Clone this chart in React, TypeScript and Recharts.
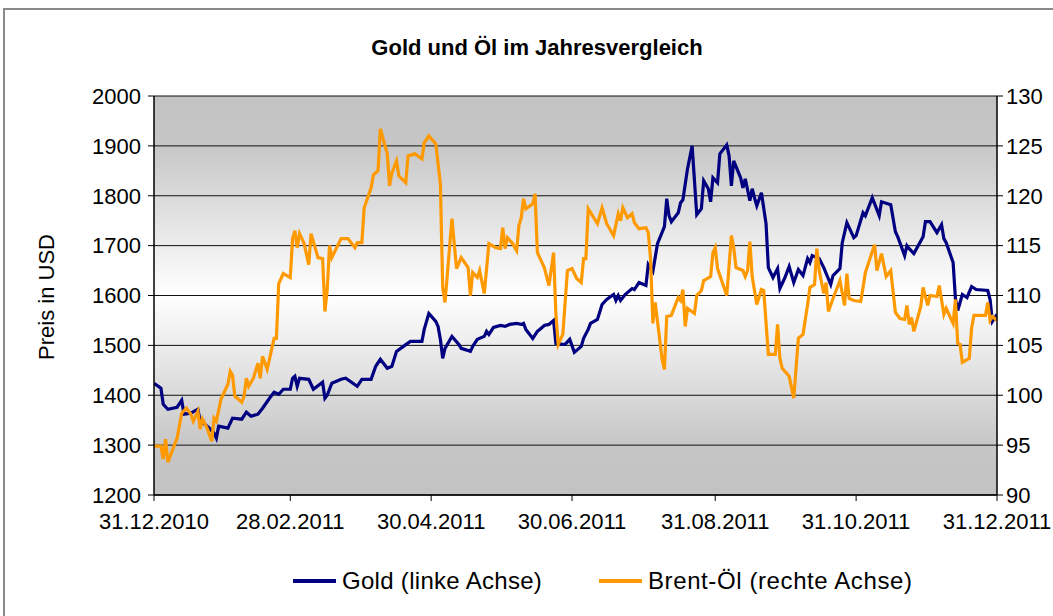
import { CartesianGrid, Line, LineChart, XAxis, YAxis } from "recharts";

const NAVY = "#000080";
const ORANGE = "#FF9900";
const AXIS = "#000000";
const FONT = "'Liberation Sans', Arial, sans-serif";

// x = days since 31.12.2010
const X_TICKS = [0, 59, 120, 181, 243, 304, 365];
const X_LABELS = ["31.12.2010", "28.02.2011", "30.04.2011", "30.06.2011", "31.08.2011", "31.10.2011", "31.12.2011"];
const GOLD_TICKS = [1200, 1300, 1400, 1500, 1600, 1700, 1800, 1900, 2000];
const OIL_TICKS = [90, 95, 100, 105, 110, 115, 120, 125, 130];

// [day, USD per ounce]
const GOLD: [number, number][] = [
  [0, 1424], [3, 1414], [4, 1382], [6, 1372], [10, 1376], [12, 1390], [13, 1362], [16, 1364], [19, 1372],
  [20, 1348], [22, 1342], [24, 1334], [26, 1324], [27, 1314], [28, 1338], [32, 1334], [34, 1354], [38, 1352],
  [40, 1366], [42, 1358], [45, 1362], [47, 1374], [50, 1394], [52, 1406], [54, 1402], [56, 1412], [59, 1412],
  [60, 1434], [61, 1438], [62, 1418], [63, 1434], [67, 1432], [69, 1412], [73, 1426], [74, 1394], [75, 1400],
  [77, 1424], [81, 1432], [83, 1434], [88, 1418], [90, 1432], [94, 1432], [96, 1458], [98, 1472], [101, 1454],
  [103, 1458], [105, 1488], [108, 1498], [111, 1508], [116, 1508], [117, 1532], [119, 1564], [122, 1548],
  [123, 1538], [124, 1512], [125, 1474], [126, 1494], [129, 1518], [132, 1502], [133, 1494], [137, 1488],
  [138, 1498], [140, 1512], [143, 1518], [144, 1528], [145, 1522], [147, 1536], [150, 1540], [152, 1538],
  [154, 1542], [157, 1544], [159, 1542], [160, 1544], [161, 1532], [164, 1514], [166, 1528], [167, 1532],
  [169, 1540], [171, 1542], [173, 1550], [174, 1504], [177, 1502], [178, 1502], [180, 1512], [182, 1486],
  [185, 1498], [186, 1514], [188, 1532], [189, 1544], [192, 1552], [194, 1582], [196, 1592], [199, 1602],
  [200, 1590], [201, 1600], [202, 1590], [204, 1602], [207, 1614], [208, 1612], [210, 1626], [213, 1620],
  [214, 1662], [216, 1648], [218, 1704], [221, 1738], [222, 1794], [223, 1760], [224, 1748], [227, 1766],
  [228, 1786], [229, 1792], [231, 1854], [233, 1900], [235, 1762], [237, 1774], [238, 1830], [240, 1814],
  [241, 1788], [242, 1836], [244, 1826], [245, 1884], [248, 1902], [249, 1880], [250, 1820], [251, 1870],
  [254, 1836], [255, 1816], [256, 1834], [258, 1790], [259, 1814], [260, 1796], [261, 1780], [263, 1806],
  [265, 1744], [266, 1656], [268, 1636], [270, 1654], [271, 1614], [273, 1634], [275, 1658], [277, 1626],
  [279, 1652], [281, 1640], [283, 1674], [284, 1666], [285, 1680], [288, 1674], [290, 1656], [293, 1622],
  [294, 1640], [297, 1654], [298, 1706], [300, 1746], [303, 1716], [304, 1720], [307, 1766], [308, 1760],
  [311, 1796], [314, 1760], [315, 1788], [319, 1782], [321, 1728], [322, 1718], [325, 1680], [326, 1700],
  [327, 1694], [329, 1684], [333, 1718], [334, 1748], [336, 1748], [339, 1726], [341, 1742], [342, 1714],
  [343, 1706], [346, 1666], [347, 1594], [348, 1570], [350, 1602], [352, 1596], [354, 1618], [356, 1612],
  [361, 1610], [362, 1592], [363, 1548], [365, 1562],
];

// [day, USD per barrel]
const BRENT: [number, number][] = [
  [0, 94.9], [3, 94.9], [4, 93.6], [5, 95.6], [6, 93.3], [10, 95.7], [12, 98.2], [14, 98.7], [16, 98.1],
  [17, 97.4], [19, 98.4], [20, 96.6], [21, 97.6], [23, 96.7], [25, 95.4], [26, 97.7], [27, 97.4], [29, 99.6],
  [32, 101.1], [33, 102.4], [34, 102.0], [35, 99.9], [38, 99.3], [39, 99.9], [40, 101.7], [41, 100.9],
  [43, 101.7], [45, 103.2], [46, 101.7], [47, 103.9], [49, 102.6], [52, 105.7], [53, 105.7], [54, 111.2],
  [56, 112.2], [59, 111.8], [60, 115.7], [61, 116.5], [62, 114.8], [63, 116.2], [65, 115.2], [67, 113.1],
  [68, 116.2], [71, 113.8], [73, 113.7], [74, 108.4], [75, 110.6], [76, 115.0], [77, 113.8], [81, 115.7],
  [84, 115.7], [87, 114.8], [88, 115.3], [90, 115.3], [91, 118.8], [94, 120.8], [95, 122.1], [97, 122.5],
  [98, 126.7], [101, 124.2], [102, 121.0], [103, 122.3], [105, 123.5], [106, 122.0], [109, 121.3],
  [110, 124.0], [113, 124.2], [116, 123.7], [117, 125.3], [119, 126.0], [122, 125.2], [124, 121.2],
  [125, 110.8], [126, 109.3], [129, 117.7], [131, 112.7], [133, 113.8], [136, 112.8], [137, 110.0],
  [138, 112.3], [140, 111.8], [141, 112.5], [143, 110.2], [145, 115.2], [148, 114.8], [150, 114.7],
  [151, 116.8], [152, 114.7], [153, 115.8], [155, 115.3], [157, 114.5], [158, 117.0], [159, 117.8],
  [160, 119.7], [161, 118.7], [164, 119.2], [165, 120.2], [166, 114.3], [169, 112.8], [171, 111.0],
  [173, 114.3], [174, 108.2], [175, 105.1], [177, 106.1], [179, 112.5], [181, 112.7], [183, 111.7],
  [185, 111.3], [186, 113.7], [187, 113.7], [188, 118.7], [192, 117.2], [194, 118.8], [196, 117.2],
  [199, 116.0], [201, 118.2], [202, 117.5], [203, 118.8], [205, 117.8], [207, 118.2], [208, 117.3],
  [210, 116.7], [213, 116.8], [214, 116.3], [215, 113.7], [216, 107.2], [217, 109.3], [220, 103.6],
  [221, 102.6], [222, 107.9], [224, 108.0], [227, 109.8], [228, 109.5], [229, 110.6], [230, 106.9],
  [231, 108.7], [234, 108.2], [235, 110.0], [237, 110.5], [238, 111.5], [241, 111.9], [242, 114.3],
  [243, 114.8], [244, 112.7], [248, 110.0], [250, 116.0], [251, 114.8], [252, 112.8], [255, 112.5],
  [256, 111.9], [257, 112.5], [258, 115.4], [259, 111.9], [261, 109.1], [263, 110.6], [264, 110.5],
  [266, 104.1], [269, 104.1], [270, 107.1], [271, 103.7], [272, 102.7], [275, 101.9], [277, 99.7],
  [279, 105.7], [281, 106.1], [283, 109.1], [284, 110.8], [286, 111.1], [287, 114.7], [288, 112.5],
  [290, 110.2], [291, 111.3], [292, 108.4], [294, 109.7], [297, 111.5], [299, 109.0], [300, 112.2],
  [301, 109.7], [303, 109.5], [306, 109.4], [307, 110.8], [308, 112.3], [312, 115.1], [313, 112.5],
  [315, 114.2], [317, 111.9], [319, 112.5], [321, 108.3], [323, 107.7], [325, 107.6], [326, 109.0],
  [327, 107.1], [328, 107.8], [329, 106.4], [332, 108.9], [333, 110.8], [335, 109.0], [336, 110.0],
  [339, 109.9], [340, 111.0], [342, 108.1], [343, 108.7], [346, 107.2], [347, 109.6], [348, 105.2],
  [349, 105.1], [350, 103.3], [353, 103.7], [354, 106.7], [355, 108.0], [360, 108.0], [361, 109.3],
  [362, 107.5], [363, 107.9], [365, 107.5],
];

const goldRows = GOLD.map(([d, v]) => ({ d, gold: v }));
const oilRows = BRENT.map(([d, v]) => ({ d, oil: v }));

const tickStyle = { fill: AXIS, fontSize: 22, fontFamily: FONT };

export default function App() {
  return (
    <div style={{ position: "absolute", left: 0, top: 0, width: 1053, height: 616, background: "#fff", fontFamily: FONT, overflow: "hidden" }}>
      <div style={{ position: "absolute", left: 3, top: 8, width: 1070, height: 640, border: "2px solid #8a8a8a" }} />
      <div style={{ position: "absolute", left: 0, top: 35, width: 1074, textAlign: "center", fontSize: 22, fontWeight: 700, color: "#000" }}>
        Gold und Öl im Jahresvergleich
      </div>
      <div
        style={{
          position: "absolute", left: 47, top: 297, transform: "translate(-50%, -50%) rotate(-90deg)",
          whiteSpace: "nowrap", fontSize: 22, color: "#000",
        }}
      >
        Preis in USD
      </div>
      <div style={{ position: "absolute", left: 0, top: 0 }}>
        <LineChart width={1053} height={616} margin={{ top: 96, right: 0, left: 0, bottom: 0 }}>
          <defs>
            <linearGradient id="plotBg" x1="0" y1="0" x2="0" y2="1">
              <stop offset="0%" stopColor="#c2c2c2" />
              <stop offset="12%" stopColor="#c6c6c6" />
              <stop offset="50%" stopColor="#ffffff" />
              <stop offset="88%" stopColor="#c6c6c6" />
              <stop offset="100%" stopColor="#c2c2c2" />
            </linearGradient>
          </defs>
          <CartesianGrid yAxisId="left" vertical={false} stroke="#111" fill="url(#plotBg)" fillOpacity={1} />
          <XAxis
            dataKey="d" type="number" domain={[0, 365]} ticks={X_TICKS} height={121}
            tickFormatter={(v) => X_LABELS[X_TICKS.indexOf(v)] ?? ""}
            tick={tickStyle} tickSize={6} tickMargin={12} interval={0}
            axisLine={{ stroke: AXIS, strokeWidth: 1.5 }} tickLine={{ stroke: AXIS }}
            allowDataOverflow
          />
          <YAxis
            yAxisId="left" orientation="left" width={154} domain={[1200, 2000]} ticks={GOLD_TICKS}
            tick={tickStyle} tickSize={6} tickMargin={7}
            axisLine={{ stroke: AXIS, strokeWidth: 1.5 }} tickLine={{ stroke: AXIS }}
          />
          <YAxis
            yAxisId="right" orientation="right" width={56} domain={[90, 130]} ticks={OIL_TICKS}
            tick={tickStyle} tickSize={6} tickMargin={3}
            axisLine={{ stroke: AXIS, strokeWidth: 1.5 }} tickLine={{ stroke: AXIS }}
          />
          <Line yAxisId="left" data={goldRows} dataKey="gold" type="linear" stroke={NAVY} strokeWidth={3.2} dot={false} isAnimationActive={false} />
          <Line yAxisId="right" data={oilRows} dataKey="oil" type="linear" stroke={ORANGE} strokeWidth={3.2} dot={false} isAnimationActive={false} />
        </LineChart>
      </div>
      <div style={{ position: "absolute", left: 293, top: 567, display: "flex", alignItems: "center", fontSize: 24, letterSpacing: 0.3, color: "#000" }}>
        <span style={{ display: "inline-block", width: 43, height: 4, background: NAVY, marginRight: 6 }} />
        Gold (linke Achse)
      </div>
      <div style={{ position: "absolute", left: 599, top: 567, display: "flex", alignItems: "center", fontSize: 24, letterSpacing: 0.6, color: "#000" }}>
        <span style={{ display: "inline-block", width: 43, height: 4, background: ORANGE, marginRight: 6 }} />
        Brent-Öl (rechte Achse)
      </div>
    </div>
  );
}
